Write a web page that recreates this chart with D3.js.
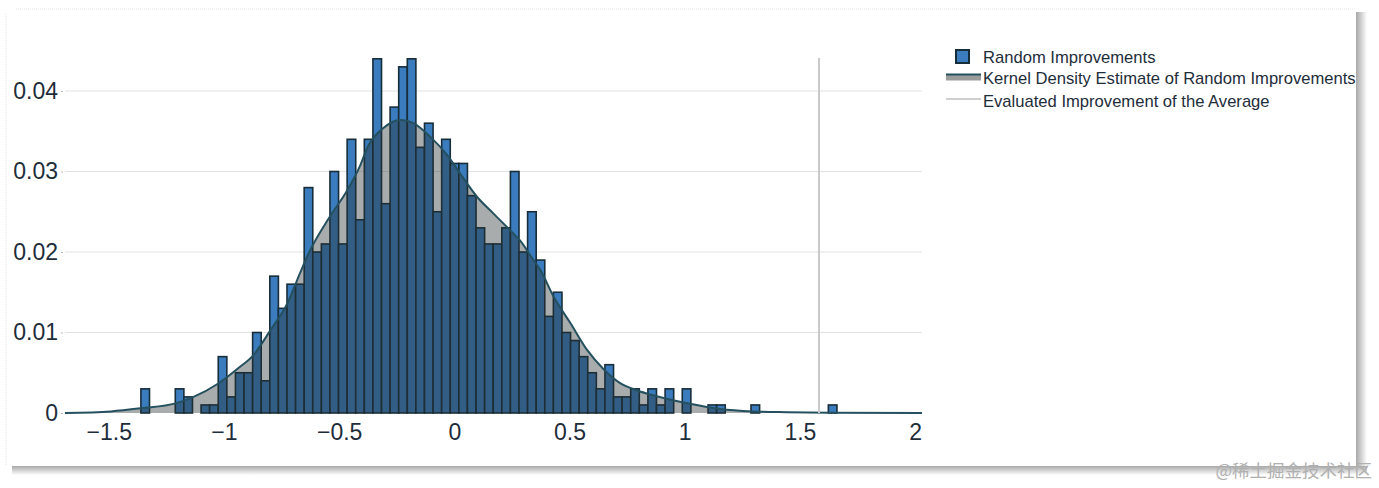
<!DOCTYPE html>
<html><head><meta charset="utf-8">
<script src="https://cdn.jsdelivr.net/npm/d3@7"></script>
<style>html,body{margin:0;padding:0;background:#fff;}svg{display:block;}</style>
</head><body>
<script>
// ---- data ----
const binStart = -1.3605;   // left edge of first bin
const binWidth = 0.0373;    // bin width
const binValues = [
 0.003,0,0,0,0.003,0.002,0,0.001,0.001,0.007,
 0.002,0.005,0.005,0.010,0.004,0.017,0.013,0.016,0.016,0.028,
 0.020,0.021,0.030,0.021,0.034,0.024,0.034,0.044,0.026,0.038,
 0.043,0.044,0.033,0.036,0.025,0.034,0.031,0.031,0.027,0.023,
 0.021,0.021,0.023,0.030,0.020,0.025,0.019,0.012,0.015,0.010,
 0.009,0.007,0.005,0.003,0.006,0.002,0.002,0.003,0.001,0.003,
 0.001,0.003,0,0.003,0,0,0.001,0.001,0,0,
 0,0.001,0,0,0,0,0,0,0,0,
 0.001];
const kdeX = [-1.69,-1.49,-1.358,-1.21,-1.132,-1.028,-0.941,-0.872,-0.798,-0.725,-0.668,-0.633,-0.538,-0.464,-0.408,-0.377,-0.308,-0.234,-0.178,-0.104,-0.030,0.026,0.100,0.169,0.256,0.286,0.343,0.373,0.430,0.503,0.577,0.646,0.720,0.794,0.863,1.011,1.154,1.297,1.445,1.631,2.03];
const kdeY = [0,0.0002,0.0006,0.0012,0.002,0.0036,0.0055,0.0072,0.0103,0.0136,0.0175,0.0198,0.0245,0.0277,0.0308,0.033,0.0354,0.0364,0.036,0.0343,0.032,0.0297,0.0268,0.0248,0.0223,0.0214,0.019,0.0178,0.0145,0.0112,0.0078,0.0055,0.0037,0.0028,0.0022,0.0012,0.0005,0.0002,0.0001,0.00003,0];
const evaluatedImprovement = 1.583;
const xTicks = [-1.5,-1,-0.5,0,0.5,1,1.5,2];
const yTicks = [0,0.01,0.02,0.03,0.04];
const legendLabels = ["Random Improvements","Kernel Density Estimate of Random Improvements","Evaluated Improvement of the Average"];
const watermark = "@稀土掘金技术社区";

// ---- layout ----
const W = 1379, H = 488;
const svg = d3.select("body").append("svg").attr("width", W).attr("height", H);
const defs = svg.append("defs");
const gR = defs.append("linearGradient").attr("id","shR").attr("x1","0").attr("x2","1").attr("y1","0").attr("y2","0");
gR.append("stop").attr("offset","0").attr("stop-color","#a8a8a8");
gR.append("stop").attr("offset","1").attr("stop-color","#ffffff");
const gB = defs.append("linearGradient").attr("id","shB").attr("x1","0").attr("x2","0").attr("y1","0").attr("y2","1");
gB.append("stop").attr("offset","0").attr("stop-color","#a8a8a8");
gB.append("stop").attr("offset","1").attr("stop-color","#ffffff");

// card frame + shadow
svg.append("rect").attr("x",1356).attr("y",12).attr("width",11).attr("height",462).attr("fill","url(#shR)");
svg.append("rect").attr("x",12).attr("y",466).attr("width",1355).attr("height",9).attr("fill","url(#shB)");
svg.append("line").attr("x1",6).attr("x2",6).attr("y1",14).attr("y2",466).attr("stroke","#e6e6e6").attr("stroke-dasharray","1,1");
svg.append("line").attr("x1",16).attr("x2",1356).attr("y1",9).attr("y2",9).attr("stroke","#e6e6e6").attr("stroke-dasharray","1,1");

const x = d3.scaleLinear().domain([-1.69, 2.03]).range([65, 922]);
const y = d3.scaleLinear().domain([0, 0.045]).range([413, 50.75]);
const textColor = "#1e2d3a";

// gridlines
svg.append("g").selectAll("line").data(yTicks.filter(d=>d>0)).join("line")
  .attr("x1", 65).attr("x2", 922).attr("y1", d=>y(d)).attr("y2", d=>y(d))
  .attr("stroke", "#e2e2e2").attr("stroke-width", 1);

// y axis
const yAxis = svg.append("g").attr("transform","translate(63,0)")
  .call(d3.axisLeft(y).tickValues(yTicks).tickSize(2).tickFormat(d3.format("")));
yAxis.select(".domain").remove();
yAxis.selectAll(".tick line").attr("stroke","#bbb");
yAxis.selectAll("text").attr("fill",textColor).attr("font-family","Liberation Sans, Arial, sans-serif").attr("font-size",23).attr("x",-5);

// x axis
const xAxis = svg.append("g").attr("transform","translate(0,413)")
  .call(d3.axisBottom(x).tickValues(xTicks).tickSize(0).tickFormat(d3.format("")));
xAxis.select(".domain").remove();
xAxis.selectAll("text").attr("fill",textColor).attr("font-family","Liberation Sans, Arial, sans-serif").attr("font-size",23).attr("dy","0.71em").attr("y",11);

// bars
const bins = binValues.map((v,i)=>({x0: binStart + i*binWidth, x1: binStart + (i+1)*binWidth, v}));
svg.append("g").selectAll("rect").data(bins.filter(b=>b.v>0)).join("rect")
  .attr("x", d=>x(d.x0)).attr("width", d=>x(d.x1)-x(d.x0))
  .attr("y", d=>y(d.v)).attr("height", d=>y(0)-y(d.v))
  .attr("fill","#3a7cbd").attr("stroke","#182d3a").attr("stroke-width",1.6);

// KDE area + line
const kde = kdeX.map((d,i)=>[d, kdeY[i]]);
svg.append("path").datum(kde)
  .attr("d", d3.area().x(d=>x(d[0])).y0(y(0)).y1(d=>y(d[1])).curve(d3.curveMonotoneX))
  .attr("fill","rgb(40,48,48)").attr("fill-opacity",0.4);
svg.append("path").datum(kde)
  .attr("d", d3.line().x(d=>x(d[0])).y(d=>y(d[1])).curve(d3.curveMonotoneX))
  .attr("fill","none").attr("stroke","#24505f").attr("stroke-width",2);

// evaluated improvement line
svg.append("line").attr("x1",x(evaluatedImprovement)).attr("x2",x(evaluatedImprovement))
  .attr("y1",58).attr("y2",413).attr("stroke","#c9c9cc").attr("stroke-width",2);

// legend
const lg = svg.append("g");
const ly = [57, 78.5, 101];
lg.append("rect").attr("x",956).attr("y",ly[0]-7).attr("width",13).attr("height",13)
  .attr("fill","#3a7cbd").attr("stroke","#182d3a").attr("stroke-width",2);
lg.append("rect").attr("x",946).attr("y",ly[1]-4).attr("width",35).attr("height",6).attr("fill","#9a9c9c");
lg.append("line").attr("x1",946).attr("x2",981).attr("y1",ly[1]-4).attr("y2",ly[1]-4).attr("stroke","#24505f").attr("stroke-width",2);
lg.append("line").attr("x1",946).attr("x2",981).attr("y1",ly[2]-2).attr("y2",ly[2]-2).attr("stroke","#d0d0d2").attr("stroke-width",2);
lg.selectAll("text").data(legendLabels).join("text")
  .attr("x",983).attr("y",(d,i)=>ly[i]).attr("dy","0.35em")
  .attr("fill",textColor).attr("font-family","Liberation Sans, Arial, sans-serif").attr("font-size",16.6)
  .text(d=>d);

// watermark
svg.append("text").attr("x",1372).attr("y",471).attr("text-anchor","end").attr("dy","0.35em")
  .attr("fill","#b0b0b0").attr("font-family","Noto Sans CJK SC").attr("font-size",17.5).text(watermark);
</script>
</body></html>
